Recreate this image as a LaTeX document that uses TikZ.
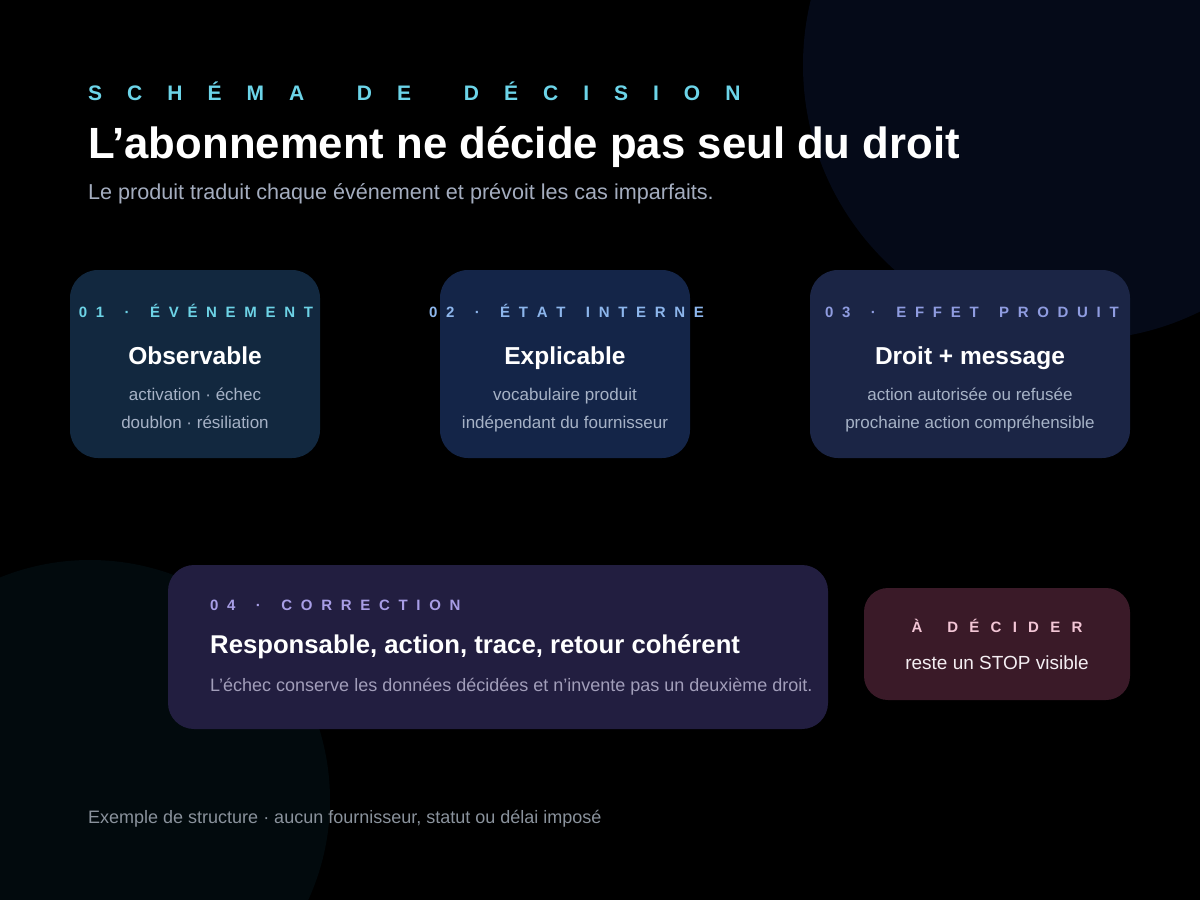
\documentclass[tikz,border=0pt]{standalone}
\usepackage{fontspec}
\setmainfont{Liberation Sans}
\makeatletter
\newcommand\trk[2]{\def\trk@amt{#1}\trk@first#2\trk@end}
\def\trk@first#1{#1\trk@loop}
\def\trk@loop#1{\ifx#1\trk@end\else\kern\trk@amt\relax#1\expandafter\trk@loop\fi}
\makeatother
\newcommand{\wgH}{\kern2.8pt}
\newcommand{\wgL}{\kern3pt}
\newcommand{\wgS}{\kern2.5pt}
\definecolor{circA}{HTML}{050A18}
\definecolor{circB}{HTML}{020A0D}
\definecolor{cyanhead}{HTML}{6CD4E8}
\definecolor{boxA}{HTML}{12283F}
\definecolor{boxB}{HTML}{142548}
\definecolor{boxC}{HTML}{1B2545}
\definecolor{boxD}{HTML}{221E40}
\definecolor{boxE}{HTML}{3A1A28}
\definecolor{subgray}{HTML}{A4ADBF}
\definecolor{bodygray}{HTML}{A6B2C6}
\definecolor{labA}{HTML}{6DD3E6}
\definecolor{labB}{HTML}{8DB6EC}
\definecolor{labC}{HTML}{8F9CE0}
\definecolor{labD}{HTML}{A89EE6}
\definecolor{labE}{HTML}{F3C6D6}
\definecolor{body4}{HTML}{A29EBA}
\definecolor{footgray}{HTML}{8A929C}
\definecolor{stoptext}{HTML}{F4EEF2}
\tikzset{
  card/.style={rounded corners=28pt, inner sep=0pt},
  lab/.style={anchor=base, inner sep=0pt, font=\bfseries\fontsize{15}{18}\selectfont},
  ttl/.style={anchor=base, inner sep=0pt, text=white, font=\bfseries\fontsize{24.5}{28}\selectfont},
  bodyln/.style={anchor=base, inner sep=0pt, text=bodygray, font=\fontsize{17}{20}\selectfont},
}
\begin{document}
\begin{tikzpicture}[x=1pt,y=-1pt]
\useasboundingbox (0,0) rectangle (1200,900);
\fill[black] (0,0) rectangle (1200,900);
\begin{scope}
\clip (0,0) rectangle (1200,900);
\fill[circA] (1078,65) circle[radius=275];
\fill[circB] (90,800) circle[radius=240];
\end{scope}
% header
\node[anchor=base west, inner sep=0pt, text=cyanhead, font=\bfseries\fontsize{21}{24}\selectfont] (kicker) at (88,100) {\trk{25pt}{SCHÉMA\wgH DE\wgH DÉCISION}};
\node[anchor=base west, inner sep=0pt, text=white, font=\bfseries\fontsize{43.7}{50}\selectfont] (title) at (88,158) {L’abonnement ne décide pas seul du droit};
\node[anchor=base west, inner sep=0pt, text=subgray, font=\fontsize{21.6}{25}\selectfont] (subtitle) at (88,199) {Le produit traduit chaque événement et prévoit les cas imparfaits.};
% cards
\node[card, fill=boxA, minimum width=250pt, minimum height=188pt] (c1) at (195,364) {};
\node[card, fill=boxB, minimum width=250pt, minimum height=188pt] (c2) at (565,364) {};
\node[card, fill=boxC, minimum width=320pt, minimum height=188pt] (c3) at (970,364) {};
\node[card, rounded corners=26pt, fill=boxD, minimum width=660pt, minimum height=164pt] (c4) at (498,647) {};
\node[card, rounded corners=24pt, fill=boxE, minimum width=266pt, minimum height=112pt] (c5) at (997,644) {};
% card 1
\node[lab, text=labA] (l1) at (196,317) {\trk{8.7pt}{01\wgL·\wgL ÉVÉNEMENT}};
\node[ttl] (t1) at (195,364) {Observable};
\node[bodyln] (a1) at (195,400) {activation · échec};
\node[bodyln] (b1) at (195,428) {doublon · résiliation};
% card 2
\node[lab, text=labB] (l2) at (566.5,317) {\trk{8.7pt}{02\wgL·\wgL ÉTAT\wgL INTERNE}};
\node[ttl] (t2) at (565,364) {Explicable};
\node[bodyln] (a2) at (565,400) {vocabulaire produit};
\node[bodyln] (b2) at (565,428) {indépendant du fournisseur};
% card 3
\node[lab, text=labC] (l3) at (972,317) {\trk{8.7pt}{03\wgL·\wgL EFFET\wgL PRODUIT}};
\node[ttl] (t3) at (970,364) {Droit + message};
\node[bodyln] (a3) at (970,400) {action autorisée ou refusée};
\node[bodyln] (b3) at (970,428) {prochaine action compréhensible};
% card 4
\node[lab, anchor=base west, text=labD] (l4) at (210,610) {\trk{8.7pt}{04\wgL·\wgL CORRECTION}};
\node[ttl, anchor=base west, font=\bfseries\fontsize{25.7}{30}\selectfont] (t4) at (210,653) {Responsable, action, trace, retour cohérent};
\node[bodyln, anchor=base west, text=body4, font=\fontsize{18}{21}\selectfont] (a4) at (210,691) {L’échec conserve les données décidées et n’invente pas un deuxième droit.};
% card 5
\node[lab, text=labE] (l5) at (997,632) {\trk{11.25pt}{À\wgS DÉCIDER}};
\node[bodyln, text=stoptext, font=\fontsize{19}{22}\selectfont] (a5) at (997,669) {reste un STOP visible};
% footer
\node[anchor=base west, inner sep=0pt, text=footgray, font=\fontsize{18}{21}\selectfont] (foot) at (88,823) {Exemple de structure · aucun fournisseur, statut ou délai imposé};
\end{tikzpicture}
\end{document}
